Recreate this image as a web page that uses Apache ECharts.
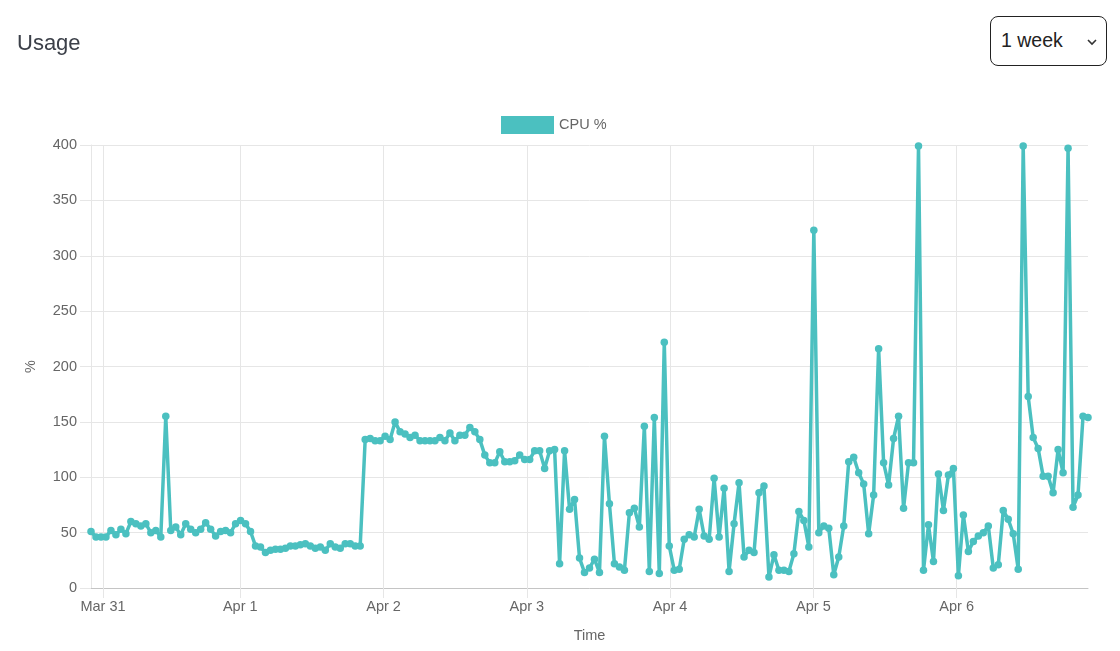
<!DOCTYPE html>
<html>
<head>
<meta charset="utf-8">
<script src="https://cdn.jsdelivr.net/npm/echarts@6/dist/echarts.min.js"></script>
<style>
  html, body { margin: 0; padding: 0; background: #fff; }
  body { width: 1120px; height: 651px; position: relative; overflow: hidden; font-family: "Liberation Sans", Arial, sans-serif; }
  #chart { position: absolute; left: 0; top: 0; width: 1120px; height: 651px; }
  .title { position: absolute; left: 17px; top: 29px; font-size: 22px; color: #3c4049; line-height: 28px; }
  .range { position: absolute; left: 990px; top: 16px; width: 115px; height: 48px; border: 1.5px solid #222; border-radius: 8px; background: #fff; }
  .range span { position: absolute; left: 10px; top: 11px; font-size: 19.5px; color: #222; line-height: 24px; }
  .range svg { position: absolute; right: 8px; top: 21px; }
</style>
</head>
<body>
<div id="chart"></div>
<div class="title">Usage</div>
<div class="range"><span>1 week</span><svg width="12" height="8" viewBox="0 0 12 8"><path d="M2 2 L6 6 L10 2" fill="none" stroke="#333" stroke-width="1.6"/></svg></div>
<script>
// one sample roughly every 50 minutes over the week (times are CET/CEST, DST starts Mar 31)
const startTime = '2024-03-30T22:00:00+01:00';
const stepMinutes = 50.1;
const seriesName = 'CPU %';

const dayTicks = [
  '2024-03-31T00:00:00+01:00',
  '2024-04-01T00:00:00+02:00',
  '2024-04-02T00:00:00+02:00',
  '2024-04-03T00:00:00+02:00',
  '2024-04-04T00:00:00+02:00',
  '2024-04-05T00:00:00+02:00',
  '2024-04-06T00:00:00+02:00'
];
const dayLabels = ['Mar 31', 'Apr 1', 'Apr 2', 'Apr 3', 'Apr 4', 'Apr 5', 'Apr 6'];

const cpuValues = [
  51, 46, 46, 46, 52, 48, 53, 49, 60, 58,
  56, 58, 50, 52, 46, 155, 52, 55, 48, 58,
  53, 50, 53, 59, 53, 47, 51, 52, 50, 58,
  61, 58, 51, 38, 37, 32, 34, 35, 35, 36,
  38, 38, 39, 40, 38, 36, 37, 34, 40, 37,
  36, 40, 40, 38, 38, 134, 135, 133, 133, 137,
  134, 150, 141, 139, 136, 138, 133, 133, 133, 133,
  136, 133, 140, 133, 138, 138, 145, 141, 134, 120,
  113, 113, 123, 114, 114, 115, 120, 116, 116, 124,
  124, 108, 124, 125, 22, 124, 71, 80, 27, 14,
  18, 26, 14, 137, 76, 22, 19, 16, 68, 72,
  55, 146, 15, 154, 13, 222, 38, 16, 17, 44,
  48, 46, 71, 47, 44, 99, 46, 90, 15, 58,
  95, 28, 34, 32, 86, 92, 10, 30, 16, 16,
  15, 31, 69, 61, 37, 323, 50, 56, 54, 12,
  28, 56, 114, 118, 104, 94, 49, 84, 216, 113,
  93, 135, 155, 72, 113, 113, 399, 16, 57, 24,
  103, 70, 102, 108, 11, 66, 33, 42, 47, 50,
  56, 18, 21, 70, 62, 49, 17, 399, 173, 136,
  126, 101, 101, 86, 125, 104, 397, 73, 84, 155,
  154
];

const startMs = new Date(startTime).getTime();
const points = cpuValues.map((v, i) => [startMs + i * stepMinutes * 60000, v]);
const tickMs = dayTicks.map(t => new Date(t).getTime());

const gridColor = '#e6e6e6';
const textColor = '#666';
const fontFamily = '"Liberation Sans", Arial, sans-serif';

const chart = echarts.init(document.getElementById('chart'));
chart.setOption({
  animation: false,
  textStyle: {fontFamily: fontFamily},
  legend: {
    left: 496,
    top: 111,
    itemWidth: 53,
    itemHeight: 18,
    icon: 'rect',
    textStyle: {color: textColor, fontSize: 14.5, fontFamily: fontFamily},
    data: [seriesName]
  },
  grid: {left: 91, right: 32, top: 145, bottom: 63, containLabel: false},
  xAxis: {
    type: 'value',
    min: points[0][0],
    max: points[points.length - 1][0],
    name: 'Time',
    nameLocation: 'middle',
    nameGap: 40,
    nameTextStyle: {color: textColor, fontSize: 14.5},
    axisLine: {show: true, lineStyle: {color: '#c4c4c4', width: 1}},
    axisTick: {show: true, length: 10, customValues: tickMs, lineStyle: {color: gridColor}},
    splitLine: {show: true, lineStyle: {color: gridColor}},
    axisLabel: {
      color: textColor,
      fontSize: 14.5,
      margin: 11,
      customValues: tickMs,
      formatter: val => dayLabels[tickMs.indexOf(val)] || ''
    }
  },
  yAxis: {
    type: 'value',
    min: 0,
    max: 400,
    interval: 50,
    name: '%',
    nameLocation: 'middle',
    nameGap: 53,
    nameRotate: 90,
    nameTextStyle: {color: textColor, fontSize: 14.5},
    axisLine: {show: true, lineStyle: {color: gridColor}},
    axisTick: {show: true, length: 11, lineStyle: {color: gridColor}},
    splitLine: {show: true, lineStyle: {color: gridColor}},
    axisLabel: {color: textColor, fontSize: 14.5, margin: 14}
  },
  series: [
    {
      name: seriesName,
      type: 'line',
      data: points,
      symbol: 'circle',
      symbolSize: 7.5,
      showAllSymbol: true,
      color: '#4BC0C0',
      lineStyle: {width: 3.5, color: '#4BC0C0'},
      itemStyle: {color: '#4BC0C0'}
    }
  ]
});
</script>
</body>
</html>
